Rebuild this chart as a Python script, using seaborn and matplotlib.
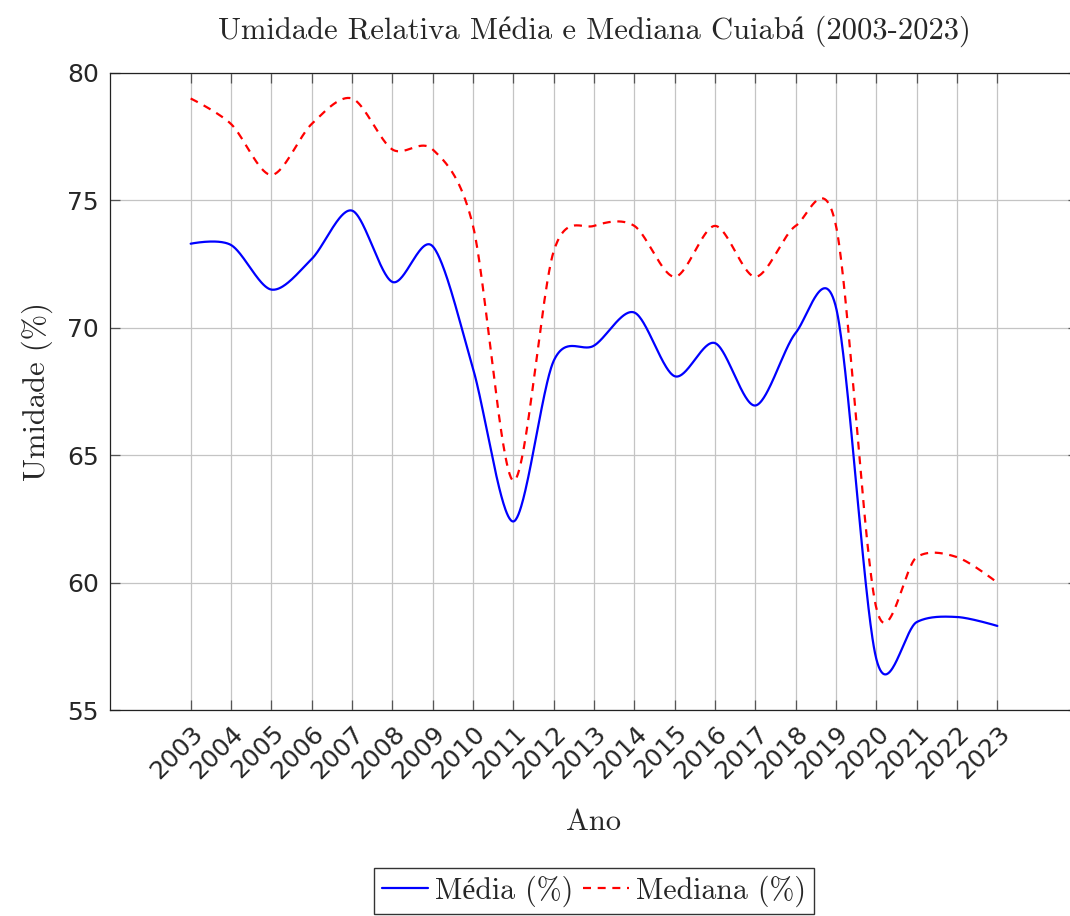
import numpy as np
import pandas as pd
import matplotlib
matplotlib.use("Agg")
import matplotlib.pyplot as plt
import seaborn as sns

# ---- data ----
anos = list(range(2003, 2024))
media = [73.3, 73.25, 71.5, 72.7, 74.6, 71.8, 73.2, 68.4, 62.4, 68.7, 69.3,
         70.6, 68.1, 69.4, 66.95, 69.8, 70.8, 57.0, 58.45, 58.65, 58.3]
mediana = [79, 78, 76, 78, 79, 77, 77, 74, 64, 73, 74,
           74, 72, 74, 72, 74, 74, 59, 61, 61, 60]
yticks = [55, 60, 65, 70, 75, 80]
xtick_labels = [str(a) for a in anos]
ytick_labels = [str(v) for v in yticks]

sns.set_theme(style="white")
plt.rcParams["font.family"] = ["cmr10", "Liberation Serif", "DejaVu Serif"]
plt.rcParams["axes.unicode_minus"] = False


def tikz_smooth(x, y, tension=0.55, n=60):
    """Cubic Bezier 'plot smooth' as drawn by TikZ/pgfplots."""
    p = np.column_stack([np.asarray(x, float), np.asarray(y, float)])
    k = 0.2761 * tension
    m = len(p)
    out = []
    t = np.linspace(0, 1, n)[:, None]
    for i in range(m - 1):
        p0, p3 = p[i], p[i + 1]
        c1 = p0 + k * (p[i + 1] - p[i - 1]) if i > 0 else p0
        c2 = p3 - k * (p[i + 2] - p[i]) if i + 2 < m else p3
        seg = ((1 - t) ** 3) * p0 + 3 * ((1 - t) ** 2) * t * c1 + 3 * (1 - t) * t ** 2 * c2 + t ** 3 * p3
        out.append(seg if i == 0 else seg[1:])
    return np.vstack(out)


frames = []
for name, vals in [("Média (%)", media), ("Mediana (%)", mediana)]:
    s = tikz_smooth(anos, vals)
    frames.append(pd.DataFrame({"Ano": s[:, 0], "Umidade": s[:, 1], "serie": name}))
df = pd.concat(frames, ignore_index=True)

W, H = 1070, 916
fig = plt.figure(figsize=(W / 100, H / 100), dpi=100)
ax = fig.add_axes([110 / W, 1 - 710 / H, (1078 - 110) / W, (710 - 73) / H])

sns.lineplot(data=df, x="Ano", y="Umidade", hue="serie", style="serie",
             palette={"Média (%)": "#0000ff", "Mediana (%)": "#ff0000"},
             dashes={"Média (%)": "", "Mediana (%)": (3.6, 3.0)},
             sort=False, estimator=None, linewidth=1.6, ax=ax)

ax.set_xlim(2001, 2025)
ax.set_ylim(55, 80)
ax.set_xticks(anos)
ax.set_xticklabels(xtick_labels, rotation=45, ha="right", va="top",
                   rotation_mode="anchor", family="DejaVu Sans", fontsize=18)
ax.set_yticks(yticks)
ax.set_yticklabels(ytick_labels, family="DejaVu Sans", fontsize=18)

ax.grid(True, color="#c4c4c4", linewidth=0.9)
ax.tick_params(direction="in", length=7, width=0.9, color="#555555",
               top=True, right=True, bottom=True, left=True, pad=8)
for sp in ax.spines.values():
    sp.set_color("#222222")
    sp.set_linewidth(0.9)

ax.set_title("Umidade Relativa Média e Mediana Cuiabá (2003-2023)", fontsize=22, pad=25)
ax.set_xlabel("Ano", fontsize=22, labelpad=18)
ax.set_ylabel("Umidade (%)", fontsize=22, labelpad=10)

leg = ax.legend(loc="upper center", bbox_to_anchor=(0.5, -0.248), ncol=2,
                frameon=True, fancybox=False, fontsize=21.5, handlelength=1.55,
                columnspacing=0.3, handletextpad=0.25, borderpad=0.25,
                borderaxespad=0.0)
leg.get_frame().set_edgecolor("#000000")
leg.get_frame().set_linewidth(1.0)

fig.savefig("out.png", dpi=100)
